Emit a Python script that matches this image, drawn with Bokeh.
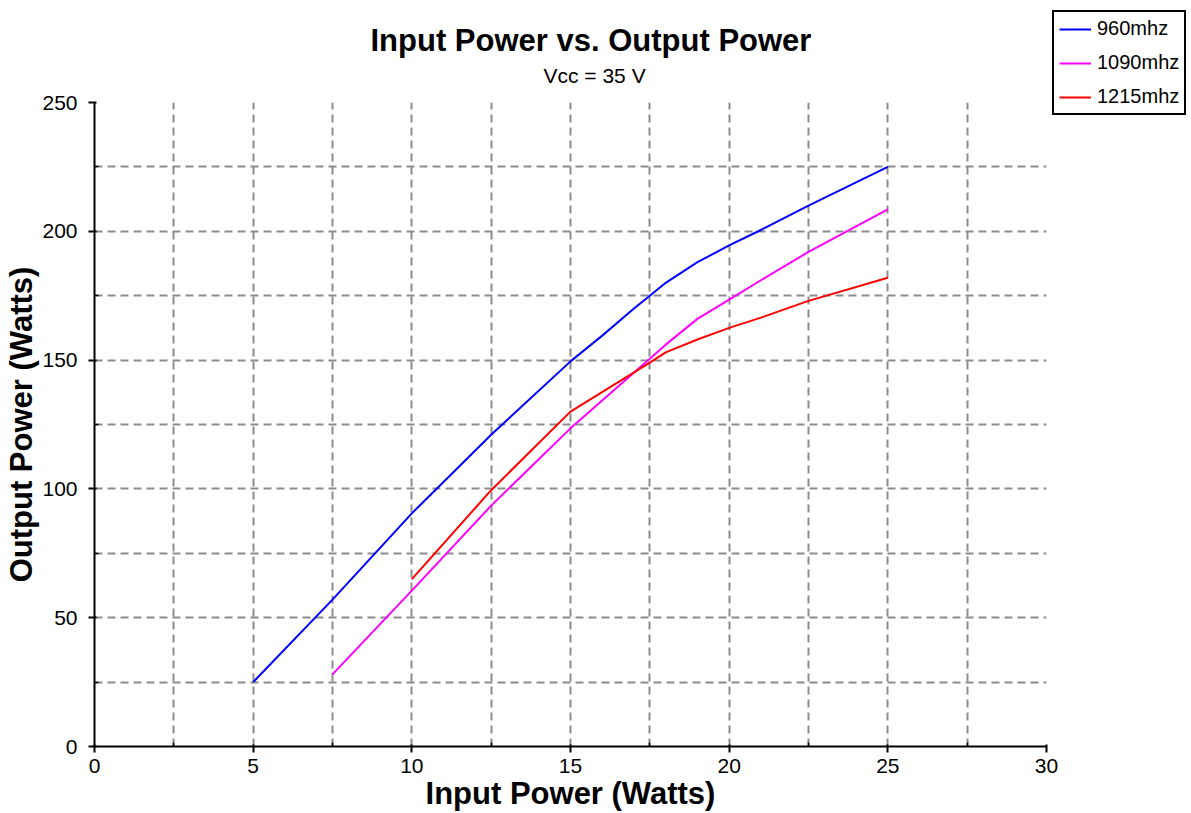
from bokeh.plotting import figure
from bokeh.models import Range1d, FixedTicker, Title
from bokeh.embed import file_html
from bokeh.resources import INLINE

# ---- data ----
series_names = ["960mhz", "1090mhz", "1215mhz"]
series_colors = ["#0000FF", "#FF00FF", "#FF0000"]
inp_960 = [5, 7.5, 10, 12.5, 15, 16, 17, 17.5, 18, 19, 20, 21, 22.5, 25]
out_960 = [25, 57, 90.5, 121, 149.5, 159.5, 170, 175, 180, 188, 194.5, 200.5, 210, 225]
inp_1090 = [7.5, 10, 12.5, 15, 17.5, 18, 19, 20, 21, 22.5, 25]
out_1090 = [28, 60.5, 93.5, 123.5, 150.5, 156, 166, 173.5, 181, 192, 208.5]
inp_1215 = [10, 12.5, 15, 17.5, 18, 19, 20, 21, 22.5, 25]
out_1215 = [65, 99.5, 130, 149, 153, 158, 162.5, 166.5, 173, 182]

x_major_ticks = [0, 5, 10, 15, 20, 25, 30]
x_minor_ticks = [2.5, 7.5, 12.5, 17.5, 22.5, 27.5]
y_major_ticks = [0, 50, 100, 150, 200, 250]
y_minor_ticks = [25, 75, 125, 175, 225]
x_grid_ticks = [2.5, 5, 7.5, 10, 12.5, 15, 17.5, 20, 22.5, 25, 27.5]
y_grid_ticks = [25, 50, 75, 100, 125, 150, 175, 200, 225]

title_text = "Input Power vs. Output Power"
subtitle_text = "Vcc = 35 V"
x_label = "Input Power (Watts)"
y_label = "Output Power (Watts)"

FONT = "Liberation Sans"

p = figure(frame_width=952, frame_height=644, output_backend="svg", toolbar_location=None,
           title=None,
           x_range=Range1d(0, 30), y_range=Range1d(0, 250),
           min_border_left=94, min_border_right=145, min_border_top=102, min_border_bottom=67)
p.outline_line_color = None
p.background_fill_color = "white"
p.border_fill_color = "white"

xs = [inp_960, inp_1090, inp_1215]
ys = [out_960, out_1090, out_1215]
for x, y, c, n in zip(xs, ys, series_colors, series_names):
    p.line(x, y, line_color=c, line_width=2, legend_label=n)

# axes
for ax in (p.xaxis[0], p.yaxis[0]):
    ax.axis_line_color = "black"
    ax.axis_line_width = 2
    ax.major_tick_line_color = "black"
    ax.major_tick_line_width = 2
    ax.major_tick_out = 6
    ax.major_tick_in = 2
    ax.minor_tick_line_color = "black"
    ax.minor_tick_line_width = 1.5
    ax.minor_tick_in = 4
    ax.minor_tick_out = 0
    ax.major_label_text_font = FONT
    ax.major_label_text_font_size = "21px"
    ax.major_label_text_color = "black"
    ax.axis_label_text_font = FONT
    ax.axis_label_text_font_size = "31px"
    ax.axis_label_text_font_style = "bold"
    ax.axis_label_text_color = "black"

p.xaxis[0].ticker = FixedTicker(ticks=x_major_ticks, minor_ticks=x_minor_ticks)
p.yaxis[0].ticker = FixedTicker(ticks=y_major_ticks, minor_ticks=y_minor_ticks)
p.xaxis[0].axis_label = x_label
p.yaxis[0].axis_label = y_label
p.xaxis[0].major_label_standoff = 6
p.xaxis[0].axis_label_standoff = 0
p.yaxis[0].major_label_standoff = 11
p.yaxis[0].axis_label_standoff = 0

# grids
p.xgrid[0].ticker = FixedTicker(ticks=x_grid_ticks)
p.ygrid[0].ticker = FixedTicker(ticks=y_grid_ticks)
for g in (p.xgrid[0], p.ygrid[0]):
    g.grid_line_color = "#8c8c8c"
    g.grid_line_width = 2
    g.grid_line_dash = "8 5"

# titles (first added sits closest to the plot); a blank spacer keeps a gap
p.add_layout(Title(text=" ", text_font=FONT, text_font_size="10px", standoff=3), "above")
p.add_layout(Title(text=subtitle_text, align="left", offset=449, text_font=FONT,
                   text_font_size="21px", text_font_style="normal", text_color="black",
                   standoff=0), "above")
p.add_layout(Title(text=title_text, align="left", offset=276, text_font=FONT,
                   text_font_size="31px", text_font_style="bold", text_color="black",
                   standoff=7), "above")

# legend, outside the plot at the top right
lg = p.legend[0]
p.center.remove(lg)
p.add_layout(lg, "right")
lg.location = (6, 631)
lg.border_line_color = "black"
lg.border_line_alpha = 1
lg.border_line_width = 2
lg.background_fill_color = "white"
lg.background_fill_alpha = 1
lg.padding = 5
lg.margin = 0
lg.spacing = 11
lg.label_height = 20
lg.glyph_height = 20
lg.glyph_width = 32
lg.label_standoff = 6
lg.label_text_font = FONT
lg.label_text_font_size = "20px"
lg.label_text_color = "black"

open("out.html", "w").write(file_html(p, INLINE))
